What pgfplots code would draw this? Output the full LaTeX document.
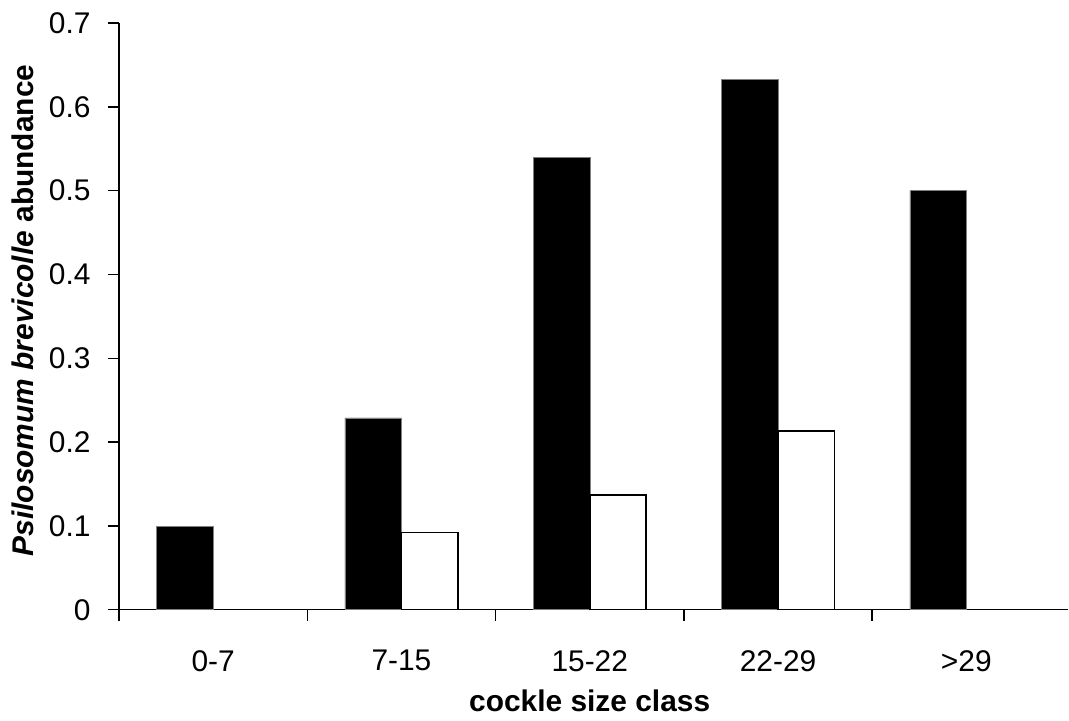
\documentclass[border=0pt]{standalone}
\usepackage{fontspec}
\setmainfont{Liberation Sans}
\usepackage{pgfplots}
\pgfplotsset{compat=1.18}
\begin{document}
\begin{tikzpicture}
\begin{axis}[
  name=ax,
  x=188.25bp, y=838bp,
  xmin=-0.5, xmax=4.54, ymin=0, ymax=0.7,
  axis x line*=bottom, axis y line*=left,
  axis line style={line width=1.5bp, black},
  tick style={line width=1.5bp, black},
  tick align=outside,
  major tick length=11bp,
  ybar, bar width=0.3,
  xtick={-0.5,0.5,1.5,2.5,3.5}, xticklabels={},
  extra x ticks={0,1,2,3,4},
  extra x tick labels={0-7,7-15,15-22,22-29,>29},
  extra x tick style={major tick length=0pt},
  ytick={0,0.1,0.2,0.3,0.4,0.5,0.6,0.7},
  /pgf/number format/.cd, fixed, precision=1, assume math mode=true,
  /pgfplots/.cd,
  tick label style={font=\fontsize{30}{32}\selectfont},
  xticklabel style={anchor=center, yshift=-51bp},
  yticklabel style={anchor=east, xshift=-14bp},
  every axis x label/.style={at={(axis description cs:0.496,0)}, yshift=-91bp, anchor=center},
  every axis y label/.style={at={(axis description cs:0,0.51)}, xshift=-96bp, rotate=90, anchor=center},
  label style={font=\fontsize{30}{32}\selectfont\bfseries},
  xlabel={cockle size class},
  ylabel={\textit{Psilosomum brevicolle} abundance},
]
\addplot[fill=black, draw=gray, line width=0.5bp, bar shift=-0.15] coordinates {(0,0.099) (1,0.229) (2,0.540) (3,0.633) (4,0.500)};
\addplot[fill=white, draw=black, line width=1.5bp, bar shift=0.15] coordinates {(1,0.092) (2,0.137) (3,0.213)};
\end{axis}
\pgfresetboundingbox
\path[use as bounding box] ([xshift=-119bp,yshift=-111bp]ax.south west) rectangle ([xshift=1bp,yshift=23bp]ax.north east);
\end{tikzpicture}
\end{document}
